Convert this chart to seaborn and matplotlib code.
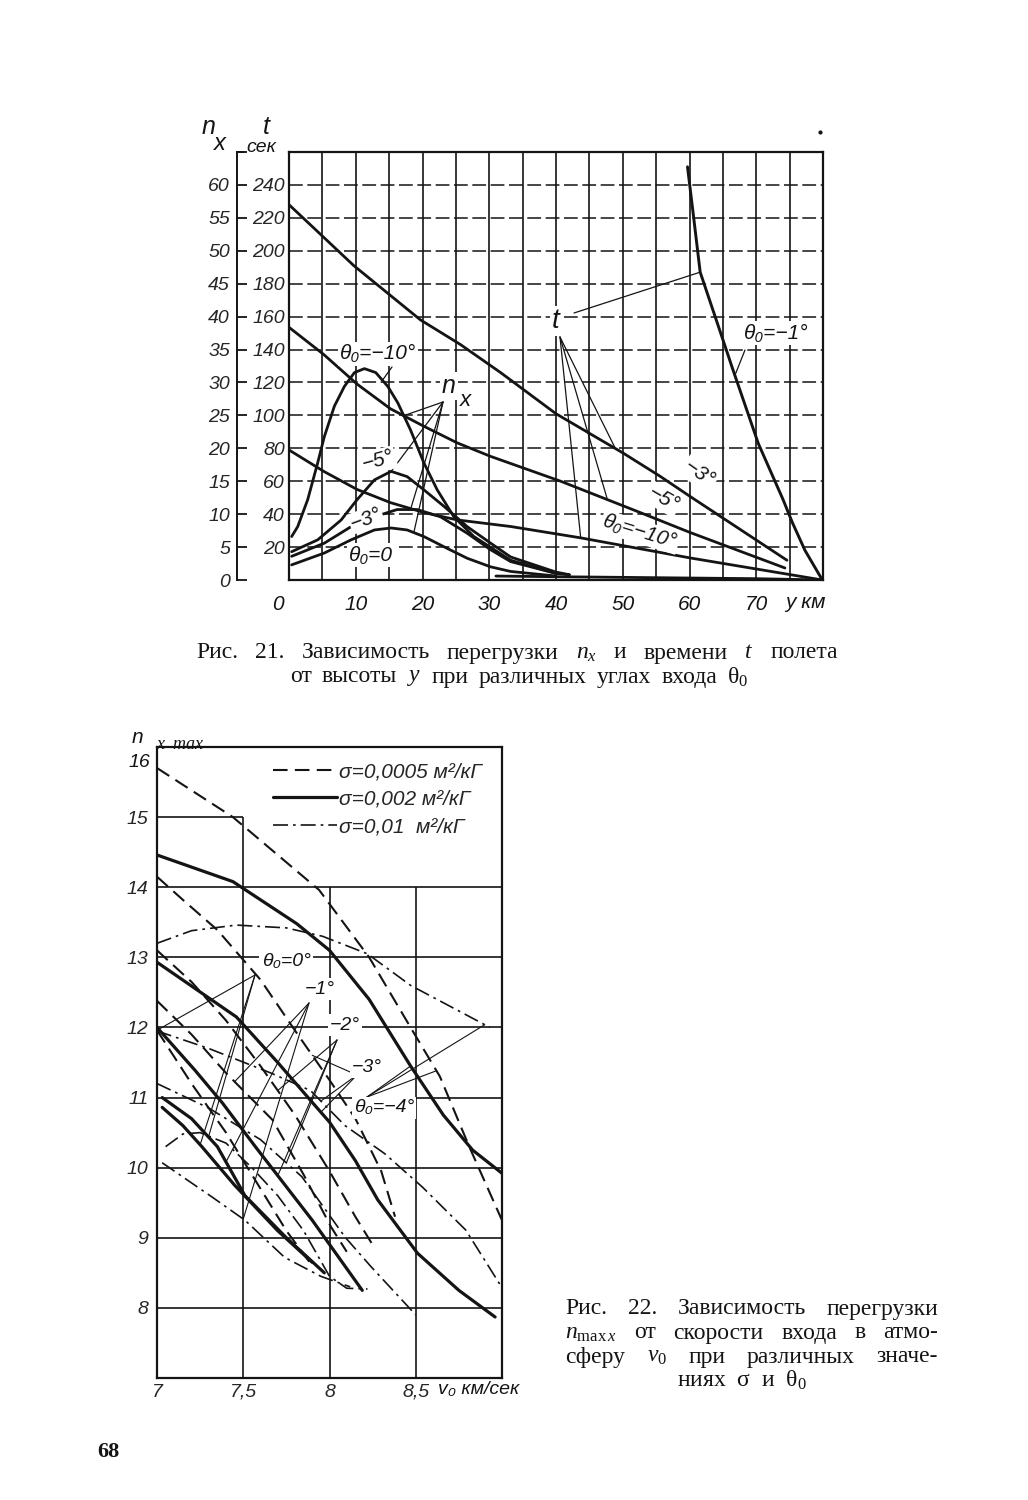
import numpy as np
import matplotlib
matplotlib.use("Agg")
import matplotlib.pyplot as plt
from matplotlib.lines import Line2D
import seaborn as sns

# ================= DATA : Fig. 21 =================
# flight time t (sec) vs altitude y (km)
t_m1_y = [59.7, 60.6, 61.6, 65.5, 66.4, 70.3, 74.0, 75.4, 77.3, 79.9]
t_m1_t = [251, 221, 187, 140, 129, 83, 49, 35, 18, 0]
t_m3_y = [0, 9.7, 19.7, 25.7, 31.7, 40, 50.1, 55.6, 60, 74.6]
t_m3_t = [228, 191, 158, 143, 126, 101, 77, 63, 51, 12]
t_m5_y = [0, 5.2, 10.2, 15.2, 20.2, 25.2, 30.2, 40.7, 52.6, 60, 74.3]
t_m5_t = [153.5, 137, 119, 104, 93.4, 83.3, 75.1, 60, 41, 29, 7.3]
t_m10_y = [0, 5.2, 10.2, 15.2, 20.2, 25.2, 33.2, 43.7, 60.1, 79.9]
t_m10_t = [79, 66, 55, 47, 41, 36.5, 32.5, 25.6, 13.4, 0]

# overload n_x vs altitude y (km)
nx_m10_y = [0.4, 1.3, 2.8, 4.3, 5.3, 6.8, 8.3, 9.8, 11.3, 13.0, 14.8, 16.3, 18.2,
            20.2, 22.2, 24.7, 27.7, 33.2, 40, 42]
nx_m10_n = [6.6, 8.1, 12.2, 17.8, 21.8, 26.4, 29.4, 31.5, 32.1, 31.5, 29.4, 26.9, 22.8,
            17.8, 13.7, 9.6, 6.6, 3.0, 1.0, 0.8]
nx_m5_y = [0.4, 4.3, 7.8, 10.2, 12.8, 15.3, 17.7, 20.2, 23.2, 26.7, 30.2, 33.2, 40, 42]
nx_m5_n = [4.3, 6.1, 9.1, 12.2, 15.2, 16.5, 15.7, 13.7, 11.2, 8.1, 5.6, 3.5, 1.2, 0.8]
nx_m3_y = [0.4, 5.3, 9.3, 12.8, 16.2, 19.2, 22.7, 26.7, 30.2, 33.2, 40]
nx_m3_n = [3.6, 5.6, 8.1, 9.6, 10.7, 10.7, 9.6, 7.1, 4.6, 2.8, 1.0]
nx_0_y = [0.4, 5.3, 9.3, 12.8, 15.3, 17.7, 20.2, 23.7, 26.7, 30.2, 33.2, 40]
nx_0_n = [2.3, 4.1, 6.1, 7.6, 7.9, 7.6, 6.6, 4.8, 3.3, 2.0, 1.3, 0.6]
nx_m1_y = [31, 40, 50, 60, 70, 80]
nx_m1_n = [0.6, 0.5, 0.4, 0.3, 0.2, 0.0]

top_x_ticks = [0, 10, 20, 30, 40, 50, 60, 70]
t_ticks = [20, 40, 60, 80, 100, 120, 140, 160, 180, 200, 220, 240]
nx_ticks = [0, 5, 10, 15, 20, 25, 30, 35, 40, 45, 50, 55, 60]

# ================= DATA : Fig. 22 =================
# n_x max vs entry velocity v0 (km/s); groups by theta0, styles by sigma
v_m4_a = [7.0, 7.44, 7.94, 8.23, 8.47, 8.64, 8.81, 9.0]
n_m4_a = [15.7, 15.0, 13.96, 13.0, 12.0, 11.3, 10.3, 9.25]
v_m4_b = [7.0, 7.44, 7.81, 8.0, 8.23, 8.47, 8.66, 8.83, 9.0]
n_m4_b = [14.46, 14.08, 13.48, 13.1, 12.4, 11.45, 10.75, 10.25, 9.92]
v_m4_c = [7.0, 7.2, 7.46, 7.75, 7.96, 8.22, 8.47, 8.7, 8.93]
n_m4_c = [13.2, 13.38, 13.46, 13.42, 13.3, 13.05, 12.6, 12.3, 12.0]

v_m3_a = [7.0, 7.15, 7.35, 7.6, 7.81, 8.0, 8.15, 8.3, 8.38]
n_m3_a = [14.15, 13.82, 13.39, 12.68, 11.92, 11.25, 10.7, 9.95, 9.3]
v_m3_b = [7.0, 7.46, 7.7, 7.89, 8.0, 8.15, 8.28, 8.51, 8.75, 8.96]
n_m3_b = [12.93, 12.15, 11.5, 10.96, 10.65, 10.1, 9.54, 8.78, 8.25, 7.87]
v_m3_c = [7.0, 7.3, 7.66, 7.89, 8.09, 8.32, 8.54, 8.79, 9.02]
n_m3_c = [11.95, 11.7, 11.35, 11.1, 10.6, 10.2, 9.72, 9.11, 8.21]

v_m2_a = [7.0, 7.2, 7.4, 7.6, 7.8, 8.0, 8.15, 8.25]
n_m2_a = [13.1, 12.65, 12.1, 11.45, 10.75, 9.95, 9.3, 8.9]
v_m2_b = [7.0, 7.22, 7.38, 7.57, 7.9, 8.19]
n_m2_b = [12.0, 11.39, 10.92, 10.3, 9.25, 8.25]
v_m2_c = [7.0, 7.3, 7.6, 7.84, 8.09, 8.24, 8.5]
n_m2_c = [11.2, 10.85, 10.4, 9.87, 9.01, 8.59, 7.9]

v_m1_a = [7.0, 7.2, 7.4, 7.67, 7.85, 8.01, 8.1]
n_m1_a = [12.38, 11.9, 11.35, 10.68, 9.9, 9.15, 8.8]
v_m1_b = [7.03, 7.2, 7.35, 7.51, 7.75, 7.97]
n_m1_b = [11.0, 10.7, 10.3, 9.6, 9.0, 8.5]
v_m1_c = [7.03, 7.32, 7.51, 7.74, 7.95, 8.12]
n_m1_c = [10.07, 9.58, 9.25, 8.72, 8.45, 8.3]

v_0_a = [7.0, 7.2, 7.4, 7.6, 7.75, 7.9]
n_0_a = [11.96, 11.2, 10.5, 9.7, 9.1, 8.6]
v_0_b = [7.03, 7.15, 7.26, 7.45, 7.7, 7.9]
n_0_b = [10.86, 10.6, 10.3, 9.75, 9.1, 8.65]
v_0_c = [7.05, 7.15, 7.25, 7.4, 7.55, 7.7, 7.85, 8.0, 8.1, 8.22]
n_0_c = [10.3, 10.48, 10.5, 10.35, 10.0, 9.6, 9.1, 8.45, 8.28, 8.27]

bot_x_ticks = [7, 7.5, 8, 8.5]
bot_x_labels = ["7", "7,5", "8", "8,5"]
bot_y_ticks = [8, 9, 10, 11, 12, 13, 14, 15]
sigma_labels = ["σ=0,0005 м²/кГ", "σ=0,002 м²/кГ", "σ=0,01  м²/кГ"]

# ================= STYLE =================
sns.set_theme(style="white")
SANS = ["Liberation Sans Narrow", "Liberation Sans", "DejaVu Sans"]
SERIF = ["Liberation Serif", "DejaVu Serif"]
plt.rcParams["font.family"] = SANS
plt.rcParams["mathtext.fontset"] = "custom"
plt.rcParams["mathtext.rm"] = "Liberation Serif"
plt.rcParams["mathtext.it"] = "Liberation Serif:italic"
INK = "#141414"

W, H = 1028, 1500
fig = plt.figure(figsize=(W / 100, H / 100), dpi=100)
fig.patch.set_facecolor("white")


def F(px, py):
    return (px / W, 1 - py / H)


def ftext(px, py, s, size=14, ha="center", va="center", rot=0, style="italic",
          family=SANS, box=False, weight="normal", pad=1.5):
    kw = {}
    if box:
        kw["bbox"] = dict(fc="white", ec="none", pad=pad)
    return fig.text(*F(px, py), s, ha=ha, va=va, rotation=rot, fontsize=size,
                    style=style, family=family, color=INK, weight=weight, zorder=6, **kw)


def justify(py, x0, x1, words, size=17):
    texts = [ftext(0, py, w, size=size, ha="left", style="normal", family=SERIF)
             for w in words]
    r = fig.canvas.get_renderer()
    widths = [t.get_window_extent(r).width for t in texts]
    gap = (x1 - x0 - sum(widths)) / max(len(words) - 1, 1)
    x = x0
    for t, w in zip(texts, widths):
        t.set_position(F(x, py))
        x += w + gap


def curve(ax, x, y, lw, ls="-"):
    sns.lineplot(x=x, y=y, ax=ax, color=INK, linewidth=lw, linestyle=ls,
                 sort=False, estimator=None, legend=False)


def pointer(ax, px, py, xd, yd, lw=0.9):
    ax.annotate("", xy=(xd, yd), xycoords="data", xytext=F(px, py),
                textcoords="figure fraction",
                arrowprops=dict(arrowstyle="-", color=INK, lw=lw,
                                shrinkA=0, shrinkB=0), zorder=4)


# ================= FIG. 21 =================
ax1 = fig.add_axes([289 / W, 1 - 580 / H, (823 - 289) / W, (580 - 152) / H])
ax1.set_facecolor("white")
ax1.set_xlim(0, 80)
ax1.set_ylim(0, 260)
ax1.set_xticks(np.arange(0, 81, 5))
ax1.set_xticklabels([""] * 17)
ax1.set_yticks(np.arange(0, 261, 20))
ax1.set_yticklabels(["" if v not in t_ticks else str(v) for v in np.arange(0, 261, 20)])
ax1.tick_params(axis="both", length=0)
ax1.tick_params(axis="y", pad=3, labelsize=14)
for lab in ax1.get_yticklabels():
    lab.set_fontstyle("italic")
ax1.xaxis.grid(True, color=INK, lw=1.2, ls="-")
ax1.yaxis.grid(True, color=INK, lw=1.1, ls=(0, (9, 3)))
ax1.set_axisbelow(True)
for sp in ax1.spines.values():
    sp.set_visible(True)
    sp.set_color(INK)
    sp.set_linewidth(1.6)

sec = ax1.secondary_yaxis((237 - 289) / (823 - 289),
                          functions=(lambda t: np.asarray(t) / 4.0,
                                     lambda n: np.asarray(n) * 4.0))
sec.set_yticks(nx_ticks + [65])
sec.set_yticklabels([str(v) for v in nx_ticks] + [""])
sec.tick_params(direction="in", length=7, width=1.3, pad=5, labelsize=14, color=INK)
for lab in sec.get_yticklabels():
    lab.set_fontstyle("italic")
sec.spines["left"].set_linewidth(1.4)
sec.spines["left"].set_color(INK)

# t curves
curve(ax1, t_m1_y, t_m1_t, 2.1)
curve(ax1, t_m3_y, t_m3_t, 2.0)
curve(ax1, t_m5_y, t_m5_t, 2.0)
curve(ax1, t_m10_y, t_m10_t, 2.0)
# n_x curves (plotted on the t-scale: 1 unit n_x = 4 sec)
for yy, nn in [(nx_m10_y, nx_m10_n), (nx_m5_y, nx_m5_n), (nx_m3_y, nx_m3_n),
               (nx_0_y, nx_0_n), (nx_m1_y, nx_m1_n)]:
    curve(ax1, yy, [4 * v for v in nn], 2.0)

# x tick labels
for v in top_x_ticks:
    ax1.text(v - (1.6 if v == 0 else 0), -0.035, str(v), transform=ax1.get_xaxis_transform(),
             ha="center", va="top", fontsize=15, style="italic", color=INK)
ftext(805, 602, "y км", size=15)

# axis headers
ftext(209, 127, "n", size=18)
ftext(220, 143, "x", size=17)
ftext(266, 127, "t", size=18)
ftext(261, 147, "сек", size=14)
fig.add_artist(Line2D([237 / W, 244 / W], [1 - 152 / H, 1 - 152 / H], color=INK, lw=1.3))
fig.add_artist(Line2D([820 / W], [1 - 132 / H], marker="o", ms=2, color=INK))

# labels + pointers (left part)
ftext(378, 354, "θ₀=−10°", size=15, box=True)
pointer(ax1, 392, 367, 14.0, 4 * np.interp(14.0, nx_m10_y, nx_m10_n))
ftext(449, 386, "n", size=18, box=True)
ftext(465, 400, "x", size=16)
for xx, yy, nn in [(17.2, nx_m10_y, nx_m10_n), (15.3, nx_m5_y, nx_m5_n),
                   (18.2, nx_m3_y, nx_m3_n), (18.7, nx_0_y, nx_0_n)]:
    pointer(ax1, 443, 402, xx, 4 * np.interp(xx, yy, nn))
ftext(378, 461, "−5°", size=15, rot=15, box=True)
ftext(366, 519, "−3°", size=15, rot=20, box=True, pad=0.8)
ftext(371, 555, "θ₀=0", size=15, box=True)

# labels + pointers (right part)
ftext(556, 321, "t", size=20, box=True)
pointer(ax1, 574, 313, 61.6, np.interp(61.6, t_m1_y, t_m1_t))
for xx, yy, tt in [(48.9, t_m3_y, t_m3_t), (47.7, t_m5_y, t_m5_t), (43.7, t_m10_y, t_m10_t)]:
    pointer(ax1, 560, 337, xx, np.interp(xx, yy, tt))
ftext(776, 333, "θ₀=−1°", size=15, box=True)
pointer(ax1, 745, 350, 66.8, np.interp(66.8, t_m1_y, t_m1_t))
ftext(699, 474, "−3°", size=15, rot=-35, box=True)
ftext(663, 499, "−5°", size=15, rot=-30, box=True)
ftext(640, 532, "θ₀=−10°", size=15, rot=-17, box=True)

# caption 21
justify(653, 196, 838, ["Рис.", "21.", "Зависимость", "перегрузки", "$n_x$", "и",
                        "времени", "$t$", "полета"], size=17)
justify(677, 290, 748, ["от", "высоты", "$y$", "при", "различных", "углах",
                        "входа", "θ$_0$"], size=17)

# ================= FIG. 22 =================
ax2 = fig.add_axes([157 / W, 1 - 1378 / H, (502 - 157) / W, (1378 - 747) / H])
ax2.set_facecolor("white")
ax2.set_xlim(7, 9)
ax2.set_ylim(7, 16)
ax2.set_xticks(bot_x_ticks)
ax2.set_xticklabels(bot_x_labels)
ax2.set_yticks(bot_y_ticks)
ax2.set_yticklabels([str(v) for v in bot_y_ticks])
ax2.tick_params(axis="both", length=0, labelsize=14)
ax2.tick_params(axis="x", pad=4)
ax2.tick_params(axis="y", pad=6)
for lab in ax2.get_xticklabels() + ax2.get_yticklabels():
    lab.set_fontstyle("italic")
ax2.text(-0.02, 15.78, "16", transform=ax2.get_yaxis_transform(), ha="right",
         va="center", fontsize=14, style="italic", color=INK)
for sp in ax2.spines.values():
    sp.set_visible(True)
    sp.set_color(INK)
    sp.set_linewidth(1.6)
# grid (partially interrupted like in the original)
ax2.hlines([8, 9, 10, 11, 12, 13, 14], 7, 9, color=INK, lw=1.2, zorder=1)
ax2.hlines([15], 7, 7.5, color=INK, lw=1.2, zorder=1)
ax2.vlines([7.5], 7, 15, color=INK, lw=1.2, zorder=1)
ax2.vlines([8.0, 8.5], 7, 14, color=INK, lw=1.2, zorder=1)

LS_A = (0, (7, 3.5))
LS_C = (0, (9, 3, 1.6, 3))
STY = {"a": (1.5, LS_A), "b": (2.3, "-"), "c": (1.2, LS_C)}
groups = {
    "-4": [("a", v_m4_a, n_m4_a), ("b", v_m4_b, n_m4_b), ("c", v_m4_c, n_m4_c)],
    "-3": [("a", v_m3_a, n_m3_a), ("b", v_m3_b, n_m3_b), ("c", v_m3_c, n_m3_c)],
    "-2": [("a", v_m2_a, n_m2_a), ("b", v_m2_b, n_m2_b), ("c", v_m2_c, n_m2_c)],
    "-1": [("a", v_m1_a, n_m1_a), ("b", v_m1_b, n_m1_b), ("c", v_m1_c, n_m1_c)],
    "0": [("a", v_0_a, n_0_a), ("b", v_0_b, n_0_b), ("c", v_0_c, n_0_c)],
}
for g in groups.values():
    for k, vv, nn in g:
        lw, ls = STY[k]
        curve(ax2, vv, nn, lw, ls)

# theta labels with pointer fans
lab_pos = {"0": (286, 961, "θ₀=0°", (255, 975), [7.0, 7.25, 7.3]),
           "-1": (320, 989, "−1°", (309, 1003), [7.45, 7.4, 7.5]),
           "-2": (345, 1025, "−2°", (337, 1040), [7.7, 7.7, 7.75]),
           "-3": (367, 1067, "−3°", (357, 1075), [7.9, 7.95, 7.95]),
           "-4": (384, 1108, "θ₀=−4°", (367, 1097), [8.62, 8.47, 8.9])}
for key, (lx, ly, txt, apex, xs) in lab_pos.items():
    for (k, vv, nn), xx in zip(groups[key], xs):
        pointer(ax2, apex[0], apex[1], xx, np.interp(xx, vv, nn), lw=0.8)
    ftext(lx, ly, txt, size=14, box=True)

# legend
handles = [Line2D([], [], color=INK, lw=STY[k][0], ls=STY[k][1]) for k in "abc"]
leg = ax2.legend(handles, sigma_labels, loc="upper right", frameon=False,
                 bbox_to_anchor=((482 - 157) / 345, 1 - (762 - 747) / 631),
                 borderaxespad=0, borderpad=0, handlelength=3.1, handletextpad=0.1,
                 labelspacing=0.42, fontsize=15)
for t in leg.get_texts():
    t.set_fontstyle("italic")

# axis headers
ftext(137, 737, "n", size=15)
ftext(180, 745, "x  max", size=13, family=SERIF)
ftext(438, 1390, "v₀ км/сек", size=14, ha="left")

# caption 22 (justified block)
justify(1309, 565, 938, ["Рис.", "22.", "Зависимость", "перегрузки"], size=17)
justify(1333, 565, 938, ["$n_{\\mathrm{max}\\,x}$", "от", "скорости", "входа", "в", "атмо-"], size=17)
justify(1357, 565, 938, ["сферу", "$v_0$", "при", "различных", "значе-"], size=17)
ftext(742, 1380, "ниях  σ  и  θ$_0$", size=17, style="normal", family=SERIF)

ftext(108, 1452, "68", size=16, style="normal", family=SERIF, weight="bold")

fig.savefig("out.png", dpi=100, facecolor="white")
